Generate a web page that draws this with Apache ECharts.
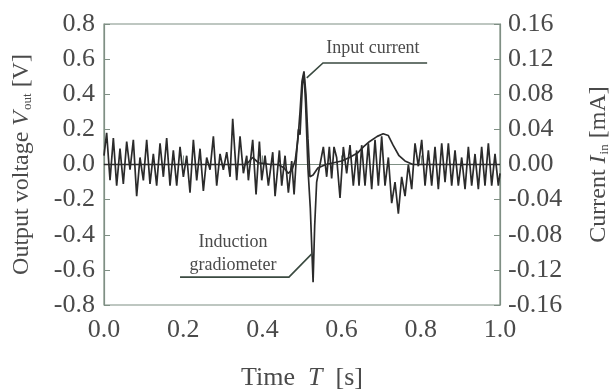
<!DOCTYPE html>
<html>
<head>
<meta charset="utf-8">
<script src="https://cdn.jsdelivr.net/npm/echarts@6/dist/echarts.min.js"></script>
<style>
  html, body { margin: 0; padding: 0; background: #fff; }
  #main { width: 612px; height: 391px; }
</style>
</head>
<body>
<div id="main"></div>
<script>
// 坐标轴刻度
const xTicks = [0.0, 0.2, 0.4, 0.6, 0.8, 1.0]
const voltTicks = [-0.8, -0.6, -0.4, -0.2, 0.0, 0.2, 0.4, 0.6, 0.8]
const currTicks = [-0.16, -0.12, -0.08, -0.04, 0.00, 0.04, 0.08, 0.12, 0.16]

// Induction gradiometer 输出电压 [V]
const gradT = [
  0.000, 0.0067, 0.0152, 0.0236, 0.032, 0.0404, 0.0488, 0.0573, 0.0657, 0.0741,
  0.0825, 0.0909, 0.0994, 0.1078, 0.1162, 0.1246, 0.133, 0.1415, 0.1499, 0.1583,
  0.1667, 0.1751, 0.1836, 0.192, 0.2004, 0.2088, 0.2172, 0.2257, 0.2341, 0.2425,
  0.2509, 0.2593, 0.2678, 0.2762, 0.2846, 0.293, 0.3014, 0.3099, 0.3183, 0.325,
  0.3351, 0.3435, 0.352, 0.3604, 0.3646, 0.3755, 0.384, 0.3924, 0.3983, 0.4067,
  0.4151, 0.4261, 0.432, 0.4429, 0.4488, 0.4572, 0.4656, 0.474, 0.480,
  0.486, 0.491, 0.495, 0.501, 0.505, 0.509, 0.515, 0.521, 0.528, 0.532, 0.537,
  0.5455, 0.5539, 0.5623, 0.569, 0.5749, 0.5808, 0.5875, 0.596, 0.6044, 0.6128,
  0.6212, 0.6296, 0.6381, 0.644, 0.6507, 0.6591, 0.6675, 0.676, 0.6844, 0.6928,
  0.7012, 0.7096, 0.7181, 0.7265, 0.7349, 0.7433, 0.7517, 0.7602, 0.7686, 0.777,
  0.7854, 0.7938, 0.8023, 0.8107, 0.8191, 0.8275, 0.8359, 0.8443, 0.8528, 0.8612,
  0.8696, 0.878, 0.8864, 0.8948, 0.9033, 0.9117, 0.9201, 0.9285, 0.9369, 0.9453,
  0.9537, 0.9621, 0.9706, 0.979, 0.9874, 0.9958, 1.000
]
const gradV = [
  0.05, 0.18, -0.09, 0.15, -0.12, 0.09, -0.11, 0.13, -0.03, 0.14,
  -0.18, 0.04, -0.09, 0.14, -0.11, 0.06, -0.12, 0.12, -0.07, 0.15,
  -0.12, 0.08, -0.12, 0.10, -0.07, 0.05, -0.16, 0.14, -0.09, 0.09,
  -0.15, 0.04, -0.03, 0.16, -0.12, 0.06, -0.03, 0.07, -0.07, 0.26,
  -0.09, 0.16, -0.05, 0.05, -0.09, 0.14, -0.17, 0.13, -0.09, 0.05,
  -0.12, 0.07, -0.18, 0.08, -0.12, 0.05, -0.16, 0.02, -0.17,
  0.05, 0.20, 0.17, 0.45, 0.52, 0.35, -0.02, -0.25, -0.67, -0.35, -0.10,
  0.00, 0.10, -0.07, 0.10, -0.08, 0.10, 0.04, -0.19, 0.10, -0.05,
  0.11, -0.12, 0.08, -0.12, 0.11, -0.12, 0.12, -0.14, 0.14, -0.12,
  0.16, -0.12, 0.04, -0.22, -0.10, -0.28, -0.07, -0.18, 0.00, -0.14,
  0.12, -0.01, 0.14, -0.12, 0.08, -0.12, 0.10, -0.14, 0.12, -0.10,
  0.12, -0.12, 0.08, -0.12, 0.04, -0.14, 0.10, -0.12, 0.06, -0.14,
  0.10, -0.12, 0.12, -0.12, 0.06, -0.12, -0.05
]

// Input current [mA]
const curT = [
  0.000, 0.300, 0.360, 0.375, 0.390, 0.420, 0.440, 0.455, 0.465, 0.475,
  0.483, 0.490, 0.495, 0.500, 0.505, 0.510, 0.515, 0.520, 0.528, 0.540,
  0.560, 0.600, 0.620, 0.640, 0.655, 0.670, 0.690, 0.705, 0.718, 0.730,
  0.745, 0.760, 0.780, 1.000
]
const curV = [
  0.000, 0.000, 0.000, 0.008, 0.002, 0.000, 0.000, -0.004, -0.010, -0.006,
  0.005, 0.030, 0.060, 0.095, 0.106, 0.080, 0.030, -0.014, -0.012, -0.004,
  0.000, 0.004, 0.008, 0.013, 0.020, 0.026, 0.032, 0.035, 0.033, 0.022,
  0.010, 0.004, 0.000, 0.000
]

const serif = '"Liberation Serif", "DejaVu Serif", serif'
const axisColor = '#7f8f84'
const textColor = '#4a4a4a'
const lineColor = '#2b2b2b'

const chart = echarts.init(document.getElementById('main'), null, { renderer: 'canvas' })

const option = {
  animation: false,
  backgroundColor: '#fff',
  grid: {
    left: 104,
    right: 112,
    top: 24,
    bottom: 86,
    outerBoundsMode: 'none',
    show: true,
    borderColor: axisColor,
    borderWidth: 1.2
  },
  xAxis: {
    type: 'value',
    min: xTicks[0],
    max: xTicks[xTicks.length - 1],
    interval: 0.2,
    name: '{a|Time  }{i|T}{a|  [s]}',
    nameLocation: 'middle',
    nameGap: 60,
    nameTextStyle: {
      rich: {
        a: { fontFamily: serif, fontSize: 26, color: textColor },
        i: { fontFamily: serif, fontSize: 26, fontStyle: 'italic', color: textColor }
      }
    },
    axisLine: { show: true, lineStyle: { color: axisColor, width: 1.2 } },
    axisTick: { show: true, inside: true, length: 9, lineStyle: { color: axisColor } },
    splitLine: { show: false },
    axisLabel: {
      margin: 12,
      fontFamily: serif,
      fontSize: 26,
      color: textColor,
      formatter: v => v.toFixed(1)
    }
  },
  yAxis: [
    {
      type: 'value',
      position: 'left',
      min: voltTicks[0],
      max: voltTicks[voltTicks.length - 1],
      interval: 0.2,
      name: '{a|Output voltage }{i|V}{s|out}{a| [V]}',
      nameLocation: 'middle',
      nameRotate: 90,
      nameGap: 70,
      nameTextStyle: {
        rich: {
          a: { fontFamily: serif, fontSize: 24, color: textColor },
          i: { fontFamily: serif, fontSize: 24, fontStyle: 'italic', color: textColor },
          s: { fontFamily: serif, fontSize: 13, color: textColor, padding: [12, 0, 0, 1] }
        }
      },
      axisLine: { show: true, lineStyle: { color: axisColor, width: 1.2 } },
      axisTick: { show: true, inside: true, length: 6, lineStyle: { color: axisColor } },
      splitLine: { show: false },
      axisLabel: {
        margin: 9,
        fontFamily: serif,
        fontSize: 26,
        color: textColor,
        formatter: v => v.toFixed(1)
      }
    },
    {
      type: 'value',
      position: 'right',
      min: currTicks[0],
      max: currTicks[currTicks.length - 1],
      interval: 0.04,
      name: '{a|Current }{i|I}{s|in}{a| [mA]}',
      nameLocation: 'middle',
      nameRotate: 90,
      nameGap: 86,
      nameTextStyle: {
        rich: {
          a: { fontFamily: serif, fontSize: 24, color: textColor },
          i: { fontFamily: serif, fontSize: 24, fontStyle: 'italic', color: textColor },
          s: { fontFamily: serif, fontSize: 13, color: textColor, padding: [12, 0, 0, 1] }
        }
      },
      axisLine: { show: true, lineStyle: { color: axisColor, width: 1.2 } },
      axisTick: { show: true, inside: true, length: 6, lineStyle: { color: axisColor } },
      splitLine: { show: false },
      axisLabel: {
        margin: 8,
        fontFamily: serif,
        fontSize: 26,
        color: textColor,
        formatter: v => v.toFixed(2)
      }
    }
  ],
  series: [
    {
      name: 'Induction gradiometer',
      type: 'line',
      yAxisIndex: 0,
      showSymbol: false,
      symbol: 'none',
      lineStyle: { color: lineColor, width: 1.7 },
      data: gradT.map((t, i) => [t, gradV[i]])
    },
    {
      name: 'Input current',
      type: 'line',
      yAxisIndex: 1,
      showSymbol: false,
      symbol: 'none',
      lineStyle: { color: lineColor, width: 1.7 },
      data: curT.map((t, i) => [t, curV[i]])
    }
  ]
}
chart.setOption(option)

// 标注：引线和文字（数据坐标 -> 像素）
const toPx = p => chart.convertToPixel({ xAxisIndex: 0, yAxisIndex: 0 }, p)
const labelStyle = { fontFamily: serif, fontSize: 18, fill: textColor, align: 'center', verticalAlign: 'middle' }
const leader = pts => ({
  type: 'polyline',
  shape: { points: pts.map(toPx) },
  style: { stroke: '#3a4a40', lineWidth: 1.6, fill: null },
  z: 10
})
const text = (str, p) => {
  const [x, y] = toPx(p)
  return { type: 'text', x, y, style: Object.assign({ text: str }, labelStyle), z: 10 }
}
chart.setOption({
  graphic: [
    leader([[0.512, 0.493], [0.553, 0.578], [0.816, 0.578]]),
    text('Input current', [0.679, 0.663]),
    leader([[0.192, -0.641], [0.467, -0.641], [0.524, -0.51]]),
    text('Induction', [0.326, -0.441]),
    text('gradiometer', [0.326, -0.572])
  ]
})
</script>
</body>
</html>
